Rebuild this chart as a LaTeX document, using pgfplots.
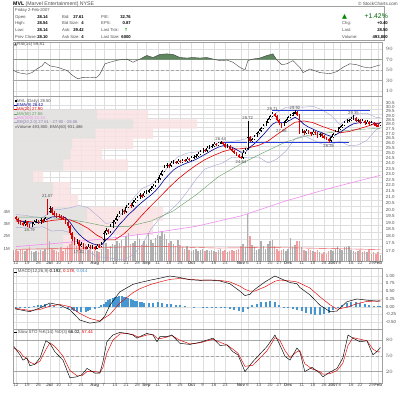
\documentclass[border=0pt]{standalone}
\usepackage{pgfplots}
\pgfplotsset{compat=1.18}
\usepackage{pgfplotstable}
\usepackage{fontspec}
\setmainfont{Liberation Sans}
\newfontfamily\dejavu{DejaVu Sans}

\definecolor{gridc}{RGB}{222,222,222}
\definecolor{axc}{RGB}{160,160,160}
\definecolor{txtc}{RGB}{80,80,80}
\definecolor{emac}{RGB}{0,0,150}
\definecolor{ma20c}{RGB}{225,0,0}
\definecolor{ma50c}{RGB}{100,160,100}
\definecolor{ma200c}{RGB}{240,140,240}
\definecolor{bbc}{RGB}{165,165,215}
\definecolor{volup}{RGB}{175,175,175}
\definecolor{voldn}{RGB}{240,160,160}
\definecolor{vbpg}{RGB}{226,226,226}
\definecolor{vbpr}{RGB}{250,226,226}
\definecolor{rsig}{RGB}{95,135,95}
\definecolor{histc}{RGB}{70,150,210}
\definecolor{candr}{RGB}{220,0,0}
\definecolor{tlc}{RGB}{40,60,220}

\pgfplotstableread{
i o h l c d v
0 19.60 19.70 19.35 19.45 1 0.9
1 19.45 19.55 19.10 19.25 1 0.8
2 19.25 19.35 19.00 19.15 1 1.0
3 19.15 19.25 18.90 19.05 1 0.9
4 19.05 19.35 18.95 19.20 0 0.8
5 19.20 19.30 18.85 19.00 1 1.0
6 19.00 19.10 18.79 18.95 1 1.1
7 18.95 19.25 18.85 19.10 0 0.8
8 19.10 19.40 19.00 19.25 0 0.7
9 19.25 19.45 19.15 19.30 0 0.8
10 19.30 19.40 19.05 19.20 1 0.7
11 19.20 19.50 19.10 19.35 0 0.9
12 19.35 19.45 19.15 19.30 1 0.8
13 19.30 19.65 19.20 19.50 0 1.0
14 20.70 21.07 19.80 20.00 1 3.5
15 20.00 20.50 19.90 20.30 0 1.6
16 20.30 20.40 19.80 19.95 1 1.0
17 19.95 20.05 19.65 19.80 1 0.9
18 19.80 19.90 19.55 19.70 1 0.8
19 19.70 19.85 19.50 19.65 1 0.7
20 19.65 19.75 19.40 19.55 1 1.1
21 19.55 19.70 19.35 19.50 1 0.8
22 19.50 19.60 19.05 19.20 1 1.0
23 19.20 19.30 18.75 18.90 1 1.2
24 18.90 19.00 18.25 18.40 1 1.4
25 18.40 18.50 17.85 18.00 1 1.6
26 18.00 18.10 17.55 17.70 1 1.9
27 17.70 17.95 17.60 17.80 0 1.2
28 17.80 17.90 17.21 17.50 1 1.7
29 17.50 17.75 17.40 17.60 0 1.0
30 17.60 17.70 17.25 17.40 1 1.3
31 17.40 17.50 17.25 17.30 1 1.4
32 17.30 17.60 17.25 17.45 0 0.9
33 17.45 17.55 17.25 17.35 1 1.0
34 17.35 17.55 17.25 17.40 0 0.8
35 17.40 17.50 17.22 17.30 1 0.9
36 17.30 17.65 17.25 17.50 0 0.8
37 17.50 17.60 17.35 17.45 1 0.7
38 17.45 17.75 17.40 17.60 0 1.0
39 17.90 18.55 17.80 18.40 0 1.8
40 18.40 18.75 18.30 18.60 0 1.5
41 18.60 18.70 18.35 18.50 1 1.0
42 18.50 19.05 18.40 18.90 0 1.2
43 18.90 19.35 18.80 19.20 0 1.4
44 19.20 19.55 19.10 19.40 0 1.3
45 19.40 19.85 19.30 19.70 0 1.6
46 19.70 20.05 19.60 19.90 0 1.5
47 19.90 20.25 19.80 20.10 0 1.7
48 20.10 20.20 19.85 20.00 1 1.2
49 20.00 20.55 19.90 20.40 0 2.0
50 20.40 20.75 20.30 20.60 0 2.3
51 20.60 20.70 20.35 20.50 1 1.4
52 20.50 20.95 20.40 20.80 0 1.5
53 20.80 21.15 20.70 21.00 0 1.6
54 21.00 21.35 20.90 21.20 0 2.2
55 21.20 21.55 21.10 21.40 0 1.8
56 21.40 21.50 21.15 21.30 1 1.3
57 21.30 21.75 21.20 21.60 0 1.6
58 21.60 21.85 21.50 21.70 0 1.4
59 21.70 21.95 21.60 21.80 0 2.3
60 21.80 22.15 21.70 22.00 0 1.7
61 22.00 22.35 21.90 22.20 0 1.5
62 22.20 22.65 22.10 22.50 0 1.9
63 22.50 22.95 22.40 22.80 0 2.1
64 22.80 23.35 22.70 23.20 0 2.0
65 23.20 23.65 23.10 23.50 0 2.4
66 23.50 24.05 23.40 23.90 0 2.2
67 23.90 24.25 23.80 24.10 0 1.8
68 24.10 24.20 23.85 24.00 1 1.5
69 24.00 24.45 23.90 24.30 0 1.6
70 24.30 24.55 24.20 24.40 0 1.4
71 24.40 24.50 24.15 24.30 1 1.2
72 24.30 24.65 24.20 24.50 0 1.7
73 24.50 24.60 24.25 24.40 1 1.3
74 24.40 24.70 24.30 24.55 0 1.1
75 24.55 24.65 24.35 24.50 1 1.0
76 24.50 24.85 24.40 24.70 0 1.2
77 24.70 24.80 24.45 24.60 1 0.9
78 24.60 24.95 24.50 24.80 0 0.8
79 24.80 25.05 24.70 24.90 0 0.9
80 24.90 25.15 24.80 25.00 0 1.0
81 25.00 25.35 24.90 25.20 0 0.8
82 25.20 25.55 25.10 25.40 0 0.9
83 25.40 25.75 25.30 25.60 0 1.0
84 25.60 25.70 25.35 25.50 1 0.8
85 25.50 25.95 25.40 25.80 0 0.9
86 25.80 26.05 25.70 25.90 0 0.8
87 25.90 26.15 25.80 26.00 0 0.9
88 26.00 26.35 25.90 26.20 0 0.8
89 26.20 26.30 25.95 26.10 1 0.7
90 26.10 26.40 26.00 26.30 0 0.9
91 26.30 26.44 26.15 26.35 0 1.0
92 26.35 26.40 26.05 26.20 1 0.8
93 26.20 26.30 25.75 25.90 1 0.9
94 25.90 26.15 25.80 26.00 0 0.7
95 26.00 26.10 25.55 25.70 1 0.8
96 25.70 25.80 25.35 25.50 1 0.9
97 25.50 25.60 25.15 25.30 1 0.8
98 25.30 25.40 24.95 25.10 1 0.9
99 25.10 25.20 24.75 24.90 1 1.0
100 24.90 25.00 24.64 24.80 1 1.2
101 24.80 25.55 24.70 25.30 0 1.4
102 25.30 25.75 25.20 25.60 0 1.1
103 25.70 28.72 25.60 26.90 0 3.8
104 26.90 27.00 26.35 26.50 1 2.0
105 26.50 26.85 26.40 26.70 0 1.3
106 26.70 27.15 26.60 27.00 0 1.1
107 27.00 27.45 26.90 27.30 0 0.9
108 27.30 27.75 27.20 27.60 0 1.0
109 27.60 28.05 27.50 27.90 0 1.6
110 27.90 28.35 27.80 28.20 0 1.2
111 28.20 28.65 28.10 28.50 0 1.0
112 28.50 29.05 28.40 28.90 0 1.4
113 28.90 29.35 28.80 29.20 0 1.6
114 29.20 29.71 29.10 29.50 0 1.7
115 29.50 29.60 29.15 29.30 1 1.2
116 29.30 29.40 28.65 28.80 1 1.0
117 28.80 28.90 28.25 28.40 1 0.8
118 28.40 28.50 27.86 28.20 1 0.9
119 28.20 28.65 28.10 28.50 0 1.0
120 28.50 28.95 28.40 28.80 0 0.8
121 28.80 29.25 28.70 29.10 0 1.0
122 29.10 29.45 29.00 29.30 0 1.9
123 29.30 29.75 29.20 29.60 0 1.1
124 29.60 29.92 29.50 29.70 0 1.3
125 29.70 29.80 29.25 29.40 1 1.6
126 29.40 29.50 27.25 27.40 1 1.6
127 27.40 27.75 27.30 27.60 0 1.1
128 27.60 27.70 27.15 27.30 1 0.9
129 27.30 27.75 27.20 27.60 0 0.8
130 27.60 27.70 27.25 27.40 1 1.0
131 27.40 27.50 27.05 27.20 1 0.9
132 27.20 27.65 27.10 27.50 0 0.8
133 27.50 27.60 27.15 27.30 1 0.7
134 27.30 27.40 26.85 27.00 1 0.9
135 27.00 27.35 26.90 27.20 0 0.7
136 27.20 27.30 26.85 27.00 1 0.6
137 27.00 27.10 26.65 26.80 1 0.7
138 26.80 26.90 26.55 26.70 1 0.6
139 26.70 26.80 26.26 26.50 1 0.8
140 26.50 27.05 26.40 26.90 0 0.9
141 26.90 27.35 26.80 27.20 0 0.8
142 27.20 27.65 27.10 27.50 0 1.0
143 27.50 27.95 27.40 27.80 0 1.2
144 27.80 28.15 27.70 28.00 0 1.0
145 28.00 28.35 27.90 28.20 0 0.9
146 28.20 28.65 28.10 28.50 0 1.1
147 28.50 28.85 28.40 28.70 0 1.1
148 28.70 28.95 28.60 28.80 0 1.2
149 28.80 29.10 28.70 28.95 0 0.9
150 28.95 29.35 28.80 29.00 0 0.8
151 29.00 29.10 28.55 28.70 1 0.7
152 28.70 28.95 28.60 28.80 0 0.8
153 28.80 28.90 28.35 28.50 1 0.9
154 28.50 28.85 28.40 28.70 0 0.7
155 28.70 28.80 28.25 28.40 1 0.8
156 28.40 28.75 28.30 28.60 0 0.7
157 28.60 28.70 28.15 28.30 1 0.9
158 28.30 28.65 28.20 28.50 0 0.6
159 28.50 28.60 28.15 28.30 1 0.7
160 28.30 28.40 28.05 28.20 1 0.6
161 28.20 28.30 27.95 28.10 1 0.7
162 28.14 28.54 28.14 28.50 0 0.49
}\ohlc

\pgfplotstableread{
x y
0 19.40
2 19.30
4 19.25
6 19.15
8 19.18
10 19.20
12 19.25
14 19.45
16 19.62
18 19.65
20 19.63
22 19.56
24 19.22
26 18.72
28 18.33
30 18.03
32 17.80
34 17.65
36 17.56
38 17.55
40 17.90
42 18.20
44 18.60
46 19.04
48 19.40
50 19.80
52 20.11
54 20.47
56 20.79
58 21.10
60 21.39
62 21.74
64 22.20
66 22.75
68 23.20
70 23.62
72 23.90
74 24.11
76 24.29
78 24.44
80 24.63
82 24.87
84 25.12
86 25.38
88 25.64
90 25.85
92 26.00
94 25.99
96 25.84
98 25.61
100 25.34
102 25.38
104 25.85
106 26.21
108 26.67
110 27.17
112 27.73
114 28.31
116 28.57
118 28.47
120 28.54
122 28.78
124 29.10
126 28.80
128 28.30
130 28.00
132 27.77
134 27.54
136 27.38
138 27.15
140 26.99
142 27.13
144 27.41
146 27.75
148 28.10
150 28.35
152 28.45
154 28.52
156 28.50
158 28.48
160 28.40
162 28.42
}\ema

\pgfplotstableread{
x m u lo
0 19.30 19.80 18.80
4 19.30 19.75 18.85
8 19.22 19.62 18.82
12 19.22 19.57 18.87
16 19.35 20.15 18.55
20 19.42 20.22 18.62
24 19.39 20.34 18.44
28 19.13 20.53 17.73
32 18.76 20.36 17.16
36 18.25 19.75 16.75
40 17.92 19.12 16.72
44 17.92 19.22 16.62
48 18.35 20.15 16.55
52 18.98 21.08 16.88
56 19.75 21.95 17.55
60 20.50 22.30 18.70
64 21.24 22.94 19.54
68 22.03 24.03 20.03
72 22.79 24.89 20.69
76 23.45 25.25 21.65
80 24.06 25.36 22.76
84 24.61 25.51 23.71
88 25.03 26.03 24.03
92 25.40 26.50 24.30
96 25.65 26.45 24.85
100 25.69 26.59 24.79
104 25.82 26.82 24.82
108 26.05 27.25 24.85
112 26.48 28.68 24.28
116 27.17 29.67 24.67
120 27.86 30.26 25.46
124 28.53 30.33 26.73
128 28.68 30.28 27.08
132 28.49 30.39 26.59
136 28.08 29.98 26.18
140 27.73 29.33 26.13
144 27.37 28.27 26.47
148 27.50 29.00 26.00
152 27.77 29.47 26.07
156 28.07 29.57 26.57
160 28.39 29.09 27.69
162 28.48 29.08 27.88
}\mab

\pgfplotstableread{
x y
0 19.60
10 19.60
20 19.50
30 19.25
40 18.90
50 18.90
60 19.30
70 20.10
80 21.40
90 23.00
100 24.20
110 25.30
120 26.40
130 27.10
140 27.40
150 27.70
162 27.86
}\mafifty

\pgfplotstableread{
x y
0 17.45
20 17.70
40 18.00
60 18.40
80 18.90
100 19.70
120 20.90
140 22.00
162 23.13
}\matwo

\pgfplotstableread{
x y
0 0.95
30 1.05
60 1.20
90 1.05
110 1.10
130 1.05
162 0.93
}\volema

\pgfplotstableread{
p g t
17.21 50 90
18.27 70 140
19.33 74 150
20.39 37 65
21.45 40 57
22.51 20 30
23.57 50 115
24.63 57 89
25.69 59 120
26.75 82 140
27.81 120 184
28.86 84 135
29.92 0 0
}\vbp

\pgfplotstableread{
x y
-1.3 50
0.9 45
4.9 42
7.1 45
9.3 52
11.6 58
12.9 65
15.1 58
18.7 55
22.7 49
25.3 39
27.6 33
29.8 36
32.9 35
36 36
37.3 42
39.6 62
41.8 65
45.3 69
49.3 71
52 65
55.1 71
58.2 78
60.9 74
64 80
67.1 81
69.8 80
72.9 74
76 73
78.7 74
81.8 73
84.9 74
87.6 71
90.7 68
93.8 69
96.4 65
99.6 55
101.8 50
103.1 68
105.3 71
108.4 73
111.6 78
114.2 81
116 69
118.2 60
120.4 62
123.1 68
126.2 55
127.6 45
130.7 52
135.1 45
139.6 43
142.7 47
145.3 55
148.4 62
151.6 60
154.2 56
157.3 54
160.4 58
162 59.81
}\rsi

\pgfplotstableread{
x y
-0.4 -0.07
6.2 -0.16
10.7 -0.04
15.1 0.12
19.6 0.05
24 -0.10
28.4 -0.43
32.9 -0.53
37.3 -0.48
39.5 -0.30
41.8 0.05
46.2 0.48
52 0.72
55.1 0.78
60 0.86
64 0.92
68.4 0.99
72.9 0.94
77.3 0.87
81.8 0.85
86.2 0.86
90.7 0.83
95.1 0.74
99.6 0.50
101.8 0.36
104 0.40
106 0.55
110.7 0.80
115.1 0.99
117.3 0.92
121.8 0.78
124.9 0.74
126.2 0.62
130.7 0.38
135.1 0.05
139.6 -0.16
142.7 -0.14
147.1 0.16
151.6 0.25
156 0.21
160.4 0.18
162 0.192
}\macd

\pgfplotstableread{
x y
-0.4 -0.05
6.2 -0.12
10.7 -0.09
15.1 0.02
19.6 0.07
24 0.0
28.4 -0.22
32.9 -0.38
37.3 -0.46
41.8 -0.25
46.2 0.12
52 0.45
55.1 0.58
60 0.72
64 0.80
68.4 0.88
72.9 0.91
77.3 0.88
81.8 0.86
86.2 0.86
90.7 0.85
95.1 0.80
99.6 0.66
101.8 0.56
104 0.50
106 0.50
110.7 0.64
115.1 0.82
117.3 0.86
121.8 0.83
124.9 0.80
126.2 0.76
130.7 0.60
135.1 0.32
139.6 0.06
142.7 -0.08
147.1 -0.02
151.6 0.10
156 0.17
160.4 0.18
162 0.178
}\sig

\pgfplotstableread{
x y
0 -0.02
2 -0.03
4 -0.03
6 -0.01
8 0.02
10 0.05
11 0.07
13 0.10
15 0.08
17 0.03
19 0.0
20 -0.03
23 -0.08
25 -0.11
26 -0.14
27 -0.16
29 -0.18
31 -0.16
32 -0.14
33 -0.11
35 -0.08
37 -0.02
38 0.04
39 0.10
40 0.16
41 0.22
42 0.25
43 0.28
44 0.30
45 0.32
46 0.33
47 0.33
48 0.32
49 0.30
50 0.28
51 0.26
52 0.23
53 0.20
54 0.18
55 0.16
56 0.14
57 0.13
59 0.12
61 0.13
63 0.14
65 0.12
67 0.10
69 0.08
71 0.06
73 0.04
75 0.02
77 0.0
79 -0.01
81 0.0
83 -0.02
85 -0.01
87 -0.03
89 -0.02
91 -0.04
93 -0.05
95 -0.06
97 -0.10
99 -0.14
101 -0.16
103 -0.08
105 0.04
107 0.10
109 0.14
111 0.16
113 0.18
115 0.15
117 0.05
119 -0.02
121 -0.05
123 -0.07
125 -0.10
127 -0.15
129 -0.20
131 -0.24
133 -0.26
135 -0.26
137 -0.25
139 -0.20
141 -0.12
143 -0.03
145 0.06
147 0.12
149 0.15
151 0.14
153 0.11
155 0.08
157 0.05
159 0.03
161 0.015
162 0.014
}\hist

\pgfplotstableread{
x y
-0.9 68
1.8 52
3.1 42
4.9 46
6.2 31
8.4 34
10.7 46
13.3 79
15.1 74
17.3 58
20.9 42
24 8
27.1 10
29.3 14
31.6 26
35.1 17
37.3 17
38.7 39
40.4 77
43.1 90
46.2 95
49.3 93
52 90
53.8 84
55.1 87
58.2 93
60.9 90
62.7 77
64 87
67.1 87
69.3 90
72.9 74
77.3 72
81.8 76
87.6 84
90.7 70
93.8 71
96.4 58
98.7 52
101.8 20
105.3 39
111.6 68
114.2 84
115.1 90
117.3 71
119.6 49
121.8 42
124.9 65
126.2 58
128.4 20
131.6 28
135.1 17
136.4 10
139.6 19
142.7 26
145.3 46
147.6 90
149.8 84
152.9 77
156 79
158.7 52
160.4 58
162 66.02
}\stk

\pgfplotstableread{
x y
-0.9 65
1.8 58
3.1 50
4.9 45
6.2 38
8.4 34
10.7 40
13.3 62
15.1 75
17.3 68
20.9 50
24 22
27.1 12
29.3 12
31.6 20
35.1 20
37.3 18
38.7 28
40.4 55
43.1 80
46.2 92
49.3 93
52 91
53.8 87
55.1 86
58.2 90
60.9 91
62.7 84
64 83
67.1 86
69.3 89
72.9 80
77.3 73
81.8 75
87.6 82
90.7 76
93.8 71
96.4 63
98.7 55
101.8 30
105.3 32
111.6 60
114.2 78
115.1 85
117.3 80
119.6 60
121.8 47
124.9 58
126.2 60
128.4 35
131.6 25
135.1 20
136.4 15
139.6 16
142.7 22
145.3 36
147.6 70
149.8 85
152.9 82
156 79
158.7 63
160.4 58
162 57.44
}\std

\pgfplotsset{
  panel/.style={scale only axis, width=369pt, anchor=south west,
    xmin=-1.3, xmax=162.7,
    axis line style={draw=axc, line width=0.3pt},
    tick style={draw=none}, major tick length=0pt,
    ticklabel style={font=\fontsize{4.4}{5}\selectfont, text=txtc},
    xtick={0,5,10,15,19,24,29,35,39,44,49,54,58,63,68,73,78,83,88,93,100,103,108,113,117,121,127,132,137,141,144,149,153,158,161},
    xticklabels={},
    xmajorgrids, ymajorgrids,
    major grid style={draw=gridc, line width=0.3pt},
    yticklabel pos=right,
    yticklabel style={anchor=west, xshift=0.4pt},
  },
  datelabels/.style={xticklabels={12,19,26,\textbf{Jul},10,17,24,\textbf{Aug},7,14,21,28,\textbf{Sep},11,18,25,\textbf{Oct},9,16,23,\textbf{Nov},6,13,20,27,\textbf{Dec},11,18,26,\textbf{2007},8,16,22,29,\textbf{Feb}},
    xticklabel style={yshift=1.2pt, inner sep=1pt}},
  over/.style={scale only axis, width=369pt, anchor=south west, xmin=-1.3, xmax=162.7, hide axis},
}
\tikzset{ann/.style={font=\fontsize{4.2}{5}\selectfont, text=txtc, inner sep=0.8pt}}
% price axes use y = ln(price); limits ln(16.48) .. ln(31.65)
\def\pymin{2.802148}
\def\pymax{3.454739}

\begin{document}
\begin{tikzpicture}[x=1pt,y=1pt]
\useasboundingbox (0pt,0pt) rectangle (400pt,392pt);
\fill[white] (0pt,0pt) rectangle (400pt,392pt);

% ---------- header ----------
\node[anchor=west, inner sep=0pt, font=\fontsize{5.2}{6}\selectfont] at (13pt,388pt) {\textbf{MVL} \textcolor{txtc}{(Marvel Entertainment) NYSE}};
\node[anchor=east, inner sep=0pt, font=\fontsize{4.6}{6}\selectfont, text=txtc] at (398pt,388pt) {\textcopyright\ StockCharts.com};
\draw[axc, line width=0.3pt] (13pt,352pt) rectangle (384pt,385.5pt);
\begin{scope}[every node/.style={inner sep=0pt, font=\fontsize{4.2}{5}\selectfont}]
\node[anchor=west, text=txtc] at (15pt,381.5pt) {Friday 2-Feb-2007};
\node[anchor=west, text=txtc] at (15pt,375pt) {Open:};
\node[anchor=west, text=txtc] at (15pt,368.7pt) {High:};
\node[anchor=west, text=txtc] at (15pt,361.8pt) {Low:};
\node[anchor=west, text=txtc] at (15pt,355pt) {Prev Close:};
\node[anchor=east] at (48pt,375pt) {\textbf{28.14}};
\node[anchor=east] at (48pt,368.7pt) {\textbf{28.54}};
\node[anchor=east] at (48pt,361.8pt) {\textbf{28.14}};
\node[anchor=east] at (48pt,355pt) {\textbf{28.10}};
\node[anchor=west, text=txtc] at (62pt,375pt) {Bid:};
\node[anchor=west, text=txtc] at (62pt,368.7pt) {Bid Size:};
\node[anchor=west, text=txtc] at (62pt,361.8pt) {Ask:};
\node[anchor=west, text=txtc] at (62pt,355pt) {Ask Size:};
\node[anchor=east] at (84pt,375pt) {\textbf{27.61}};
\node[anchor=east] at (84pt,368.7pt) {\textbf{4}};
\node[anchor=east] at (84pt,361.8pt) {\textbf{29.42}};
\node[anchor=east] at (84pt,355pt) {\textbf{4}};
\node[anchor=west, text=txtc] at (101pt,375pt) {P/E:};
\node[anchor=west, text=txtc] at (101pt,368.7pt) {EPS:};
\node[anchor=west, text=txtc] at (101pt,361.8pt) {Last Tick:};
\node[anchor=west, text=txtc] at (101pt,355pt) {Last Size:};
\node[anchor=east] at (131pt,375pt) {\textbf{32.76}};
\node[anchor=east] at (131pt,368.7pt) {\textbf{0.87}};
\node[anchor=east, text=green!55!black] at (128pt,361.8pt) {\dejavu\textbf{↑}};
\node[anchor=east] at (131pt,355pt) {\textbf{6000}};
\node[anchor=west, text=green!55!black, font=\fontsize{6.5}{7}\selectfont] at (342pt,375.5pt) {\dejavu ▲};
\node[anchor=east, text=green!40!black, font=\fontsize{6.8}{7}\selectfont] at (388pt,375.5pt) {+1.42\%};
\node[anchor=west, text=txtc] at (342pt,368.7pt) {Chg:};
\node[anchor=west, text=txtc] at (342pt,361.8pt) {Last:};
\node[anchor=west, text=txtc] at (342pt,355pt) {Volume:};
\node[anchor=east] at (388pt,368.7pt) {\textbf{+0.40}};
\node[anchor=east] at (388pt,361.8pt) {\textbf{28.50}};
\node[anchor=east] at (388pt,355pt) {\textbf{493,800}};
\end{scope}

% ---------- RSI panel ----------
\begin{axis}[panel, at={(13pt,296pt)}, height=53.5pt, ymin=0, ymax=102.9,
  ytick={10,30,50,70,90}]
\addplot[gray!70, line width=0.35pt] coordinates {(-2,70) (165,70)};
\addplot[gray!70, line width=0.35pt] coordinates {(-2,30) (165,30)};
\addplot[gray!70, line width=0.35pt, densely dashed] coordinates {(-2,50) (165,50)};
\end{axis}
\begin{axis}[over, at={(13pt,332.39pt)}, height=17.11pt, ymin=70, ymax=102.9, clip=true]
\addplot[fill=rsig, draw=none] table {\rsi} \closedcycle;
\end{axis}
\begin{axis}[over, at={(13pt,296pt)}, height=53.5pt, ymin=0, ymax=102.9]
\addplot[black!75, line width=0.4pt] table {\rsi};
\end{axis}
\node[anchor=west, inner sep=0pt, font=\fontsize{4.4}{5}\selectfont, text=txtc] at (14pt,347.5pt) {{\dejavu\fontsize{3.8}{4}\selectfont ▲}RSI(14) 59.81};

% ---------- price panel: grid frame ----------
\begin{axis}[panel, datelabels, ymin=\pymin, ymax=\pymax, at={(13pt,131pt)}, height=165pt,
  yticklabel style={yshift=2.5pt},
  ytick={2.833213,2.862201,2.890372,2.917771,2.944439,2.970414,2.995732,3.020425,3.044522,3.068053,3.091042,3.113515,3.135494,3.157000,3.178054,3.198673,3.218876,3.238678,3.258097,3.277145,3.295837,3.314186,3.332205,3.349904,3.367296,3.384390,3.401197,3.417727},
  yticklabels={17.0,17.5,18.0,18.5,19.0,19.5,20.0,20.5,21.0,21.5,22.0,22.5,23.0,23.5,24.0,24.5,25.0,25.5,26.0,26.5,27.0,27.5,28.0,28.5,29.0,29.5,30.0,30.5}]
\addplot[draw=none] coordinates {(0,3.0) (1,3.1)};
\end{axis}

% volume by price
\begin{axis}[scale only axis, width=369pt, height=165pt, anchor=south west, at={(13pt,131pt)}, hide axis, ymin=\pymin, ymax=\pymax, xmin=0, xmax=369]
\addplot[xbar interval, fill=vbpr, draw=none, fill opacity=0.85] table[x=t, y expr={ln(\thisrow{p})}] {\vbp};
\addplot[xbar interval, fill=vbpg, draw=none, fill opacity=0.85] table[x=g, y expr={ln(\thisrow{p})}] {\vbp};
\end{axis}

% volume
\begin{axis}[scale only axis, width=369pt, height=165pt, anchor=south west, at={(13pt,131pt)},
  xmin=-1.3, xmax=162.7, ymin=0, ymax=13.41,
  axis line style={draw=none}, xtick=\empty, tick style={draw=none},
  ytick={1,2,3,4}, yticklabels={1M,2M,3M,4M}, yticklabel pos=left,
  yticklabel style={font=\fontsize{4.4}{5}\selectfont, text=txtc, xshift=0.3pt}]
\addplot[ycomb, draw=volup, line width=1.6pt, restrict expr to domain={\thisrow{d}}{-0.5:0.5}] table[x=i, y=v] {\ohlc};
\addplot[ycomb, draw=voldn, line width=1.6pt, restrict expr to domain={\thisrow{d}}{0.5:1.5}] table[x=i, y=v] {\ohlc};
\addplot[ma20c!70, line width=0.4pt] table {\volema};
\end{axis}

% price plots
\begin{axis}[over, ymin=\pymin, ymax=\pymax, at={(13pt,131pt)}, height=165pt]
\addplot[ma200c, line width=0.6pt] table[x=x, y expr={ln(\thisrow{y})}] {\matwo};
\addplot[bbc, line width=0.4pt] table[x=x, y expr={ln(\thisrow{u})}] {\mab};
\addplot[bbc, line width=0.4pt] table[x=x, y expr={ln(\thisrow{lo})}] {\mab};
\addplot[ma50c, line width=0.4pt] table[x=x, y expr={ln(\thisrow{y})}] {\mafifty};
\addplot[ma20c, line width=0.6pt] table[x=x, y expr={ln(\thisrow{m})}] {\mab};
\addplot[emac, line width=0.6pt] table[x=x, y expr={ln(\thisrow{y})}] {\ema};
\addplot[tlc, line width=0.55pt] coordinates {(114,3.398192) (157.5,3.398192)};
\addplot[tlc, line width=0.55pt] coordinates {(91,3.271469) (148,3.271469)};
% candles: up (black, hollow)
\addplot[draw=none, mark=none, restrict expr to domain={\thisrow{d}}{-0.5:0.5},
  error bars/.cd, y dir=both, y explicit, error mark=none,
  error bar style={draw=black, line width=0.35pt}]
  table[x=i, y expr={(ln(\thisrow{h})+ln(\thisrow{l}))/2}, y error expr={(ln(\thisrow{h})-ln(\thisrow{l}))/2}] {\ohlc};
\addplot[draw=none, mark=none, restrict expr to domain={\thisrow{d}}{-0.5:0.5},
  error bars/.cd, y dir=both, y explicit, error mark=none,
  error bar style={draw=black, line width=1.7pt}]
  table[x=i, y expr={(ln(\thisrow{o})+ln(\thisrow{c}))/2}, y error expr={max(abs(ln(\thisrow{c})-ln(\thisrow{o}))/2,0.0012)}] {\ohlc};
\addplot[draw=none, mark=none, restrict expr to domain={\thisrow{d}}{-0.5:0.5},
  error bars/.cd, y dir=both, y explicit, error mark=none,
  error bar style={draw=white, line width=0.7pt}]
  table[x=i, y expr={(ln(\thisrow{o})+ln(\thisrow{c}))/2}, y error expr={max(abs(ln(\thisrow{c})-ln(\thisrow{o}))/2-0.0025,0)}] {\ohlc};
% candles: down (red, filled)
\addplot[draw=none, mark=none, restrict expr to domain={\thisrow{d}}{0.5:1.5},
  error bars/.cd, y dir=both, y explicit, error mark=none,
  error bar style={draw=candr, line width=0.35pt}]
  table[x=i, y expr={(ln(\thisrow{h})+ln(\thisrow{l}))/2}, y error expr={(ln(\thisrow{h})-ln(\thisrow{l}))/2}] {\ohlc};
\addplot[draw=none, mark=none, restrict expr to domain={\thisrow{d}}{0.5:1.5},
  error bars/.cd, y dir=both, y explicit, error mark=none,
  error bar style={draw=candr, line width=1.7pt}]
  table[x=i, y expr={(ln(\thisrow{o})+ln(\thisrow{c}))/2}, y error expr={max(abs(ln(\thisrow{c})-ln(\thisrow{o}))/2,0.0012)}] {\ohlc};
% annotations (y = ln of the printed price)
\node[ann, anchor=south] at (axis cs:14,3.047850) {21.07};
\node[ann, anchor=north] at (axis cs:6,2.933325) {18.79};
\node[ann, anchor=north] at (axis cs:28,2.845490) {17.21};
\node[ann, anchor=south] at (axis cs:91,3.274878) {26.44};
\node[ann, anchor=north] at (axis cs:100,3.204371) {24.64};
\node[ann, anchor=south] at (axis cs:103,3.357594) {28.72};
\node[ann, anchor=south] at (axis cs:114,3.391483) {29.71};
\node[ann, anchor=north] at (axis cs:118,3.327192) {27.86};
\node[ann, anchor=south] at (axis cs:124,3.398527) {29.92};
\node[ann, anchor=north] at (axis cs:139,3.268047) {26.26};
\node[ann, anchor=south] at (axis cs:150,3.379293) {29.35};
\end{axis}

% price legend
\begin{scope}[every node/.style={anchor=west, inner sep=0pt, font=\fontsize{4.2}{5}\selectfont, text=txtc}]
\fill[black] (14.5pt,289.8pt) rectangle (16.5pt,292.2pt);
\node at (17pt,291pt) {MVL (Daily) 28.50};
\draw[emac, line width=0.6pt] (14pt,286.7pt) -- (16.8pt,286.7pt); \node[text=emac] at (17pt,286.7pt) {EMA(9) 28.42};
\draw[ma20c, line width=0.6pt] (14pt,282.3pt) -- (16.8pt,282.3pt); \node[text=ma20c] at (17pt,282.3pt) {MA(20) 27.90};
\draw[ma50c, line width=0.6pt] (14pt,278pt) -- (16.8pt,278pt); \node[text=ma50c] at (17pt,278pt) {MA(50) 27.86};
\draw[ma200c, line width=0.6pt] (14pt,273.7pt) -- (16.8pt,273.7pt); \node[text=ma200c] at (17pt,273.7pt) {MA(200) 23.13};
\draw[bbc, line width=0.6pt] (14pt,269.3pt) -- (16.8pt,269.3pt); \node[text=bbc!80!black] at (17pt,269.3pt) {BB(20,2.0) 27.61 - 27.90 - 28.06};
\fill[volup] (14.5pt,263.7pt) rectangle (16.5pt,266.3pt);
\node at (17pt,265pt) {Volume 493,800, EMA(60) 931,486};
\end{scope}

% ---------- MACD panel ----------
\begin{axis}[panel, at={(13pt,63pt)}, height=61pt, ymin=-0.719, ymax=1.248,
  ytick={-0.5,-0.25,0,0.25,0.5,0.75,1}, yticklabels={-0.50,-0.25,0.00,0.25,0.50,0.75,1.00}]
\addplot[ycomb, draw=histc, line width=2.0pt] table {\hist};
\addplot[ma20c, line width=0.45pt] table {\sig};
\addplot[black, line width=0.45pt] table {\macd};
\end{axis}
\node[anchor=west, inner sep=0pt, font=\fontsize{4.4}{5}\selectfont, text=txtc] at (14pt,120.5pt) {\textcolor{black}{\rule[0.6pt]{2.5pt}{0.5pt}} MACD(12,26,9) \textcolor{black}{0.192,} \textcolor{ma20c}{0.178,} \textcolor{histc}{0.014}};

% ---------- Stochastic panel ----------
\begin{axis}[panel, datelabels, at={(13pt,9pt)}, height=54pt, ymin=-1.9, ymax=101.5,
  ytick={20,50,80}]
\addplot[gray!70, line width=0.35pt] coordinates {(-2,80) (165,80)};
\addplot[gray!70, line width=0.35pt] coordinates {(-2,20) (165,20)};
\addplot[gray!70, line width=0.35pt, densely dashed] coordinates {(-2,50) (165,50)};
\addplot[ma20c, line width=0.45pt] table {\std};
\addplot[black, line width=0.45pt] table {\stk};
\end{axis}
\node[anchor=west, inner sep=0pt, font=\fontsize{4.4}{5}\selectfont, text=txtc] at (14pt,60pt) {\textcolor{black}{\rule[0.6pt]{2.5pt}{0.5pt}} Slow STO \%K(14) \%D(3) \textcolor{black}{66.02,} \textcolor{ma20c}{57.44}};

\end{tikzpicture}
\end{document}
